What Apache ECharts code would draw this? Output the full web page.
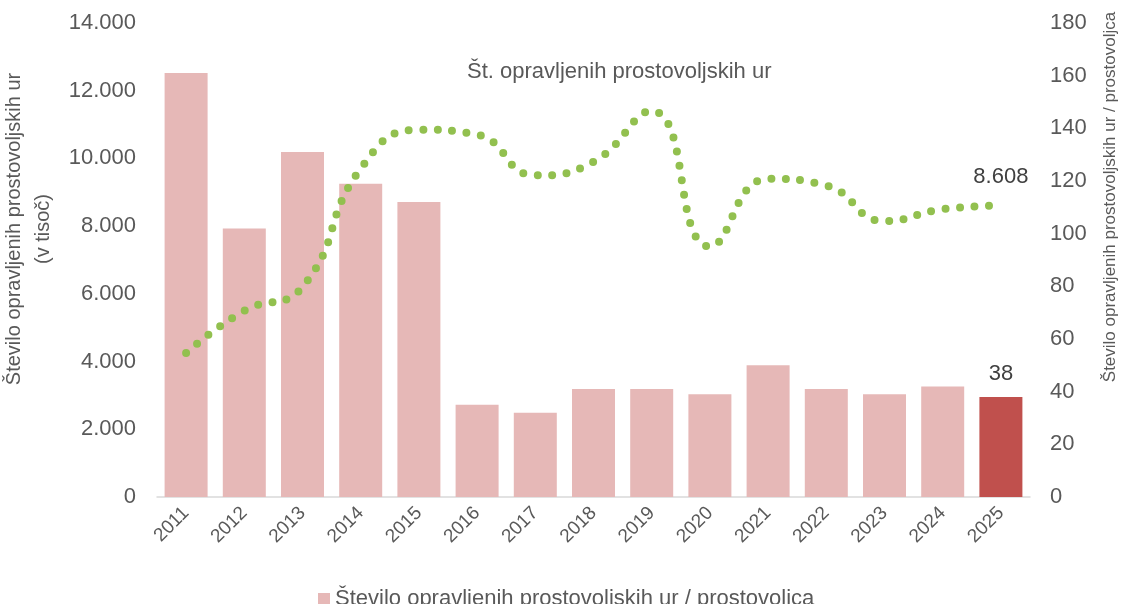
<!DOCTYPE html>
<html>
<head>
<meta charset="utf-8">
<script src="https://cdn.jsdelivr.net/npm/echarts@6/dist/echarts.min.js"></script>
<style>
  html, body { margin: 0; padding: 0; background: #fff; }
  #chart { width: 1121px; height: 604px; }
</style>
</head>
<body>
<div id="chart"></div>
<script>
// podatki
const years = ['2011', '2012', '2013', '2014', '2015', '2016', '2017', '2018', '2019', '2020', '2021', '2022', '2023', '2024', '2025'];
const hoursPerVolunteer = [161, 102, 131, 119, 112, 35, 32, 41, 41, 39, 50, 41, 39, 42, 38];
const totalHours = [4250, 5500, 6200, 9700, 10850, 10700, 9500, 9900, 11400, 7400, 9400, 9200, 8150, 8500, 8608];
const leftTicks = [0, 2000, 4000, 6000, 8000, 10000, 12000, 14000];
const rightTicks = [0, 20, 40, 60, 80, 100, 120, 140, 160, 180];

const barName = 'Število opravljenih prostovoljskih ur / prostovoljca';
const lineName = 'Št. opravljenih prostovoljskih ur';

const grey = '#595959';
const font = 'Liberation Sans, Arial, sans-serif';

const fmt = v => String(v).replace(/\B(?=(\d{3})+(?!\d))/g, '.');

const chart = echarts.init(document.getElementById('chart'));

const barData = hoursPerVolunteer.map((v, i) => {
    if (i === hoursPerVolunteer.length - 1) {
        return {
            value: v,
            itemStyle: { color: '#C0504D' },
            label: { show: true, position: 'top', distance: 12, color: '#404040', fontSize: 22, fontFamily: font }
        };
    }
    return v;
});

const lineData = totalHours.map((v, i) => {
    if (i === totalHours.length - 1) {
        return {
            value: v,
            label: { show: true, position: 'top', distance: 18, color: '#404040', fontSize: 22, fontFamily: font, formatter: p => fmt(p.value) }
        };
    }
    return v;
});

const option = {
    animation: false,
    textStyle: { fontFamily: font },
    grid: { left: 157, right: 91, top: 23, bottom: 107, containLabel: false, outerBoundsMode: 'none' },
    legend: [
        {
            data: [lineName],
            top: 56,
            left: 456,
            itemWidth: 0,
            itemHeight: 0,
            textStyle: { color: grey, fontSize: 22, fontFamily: font }
        },
        {
            data: [barName],
            top: 583,
            left: 313,
            icon: 'rect',
            itemWidth: 12,
            itemHeight: 12,
            itemGap: 5,
            textStyle: { color: grey, fontSize: 22, fontFamily: font }
        }
    ],
    xAxis: {
        type: 'category',
        data: years,
        axisLine: { lineStyle: { color: '#D9D9D9', width: 1.5 } },
        axisTick: { show: false },
        axisLabel: { rotate: 45, margin: 13, color: grey, fontSize: 19, fontFamily: font }
    },
    yAxis: [
        {
            type: 'value',
            min: 0,
            max: 14000,
            interval: 2000,
            splitLine: { show: false },
            axisLine: { show: false },
            axisLabel: { margin: 21, color: grey, fontSize: 22, fontFamily: font, formatter: v => fmt(v) },
            name: 'Število opravljenih prostovoljskih ur\n(v tisoč)',
            nameLocation: 'middle',
            nameGap: 90,
            nameRotate: 90,
            nameTextStyle: { color: grey, fontSize: 20, fontFamily: font, lineHeight: 29, padding: [0, 0, 0, 62] }
        },
        {
            type: 'value',
            min: 0,
            max: 180,
            interval: 20,
            splitLine: { show: false },
            axisLine: { show: false },
            axisLabel: { margin: 20, color: grey, fontSize: 22, fontFamily: font },
            name: barName,
            nameLocation: 'middle',
            nameGap: 72,
            nameRotate: 90,
            nameTextStyle: { color: grey, fontSize: 17, fontFamily: font, padding: [0, 0, 0, 126] }
        }
    ],
    series: [
        {
            name: barName,
            type: 'bar',
            yAxisIndex: 1,
            barWidth: 43,
            itemStyle: { color: '#E6B8B7' },
            data: barData
        },
        {
            name: lineName,
            type: 'line',
            yAxisIndex: 0,
            smooth: true,
            showSymbol: true,
            symbol: 'circle',
            symbolSize: 0,
            lineStyle: { color: '#92C04F', width: 8, type: [0, 14.5], cap: 'round' },
            itemStyle: { color: '#92C04F' },
            data: lineData,
            z: 3
        }
    ]
};

chart.setOption(option);
</script>
</body>
</html>
